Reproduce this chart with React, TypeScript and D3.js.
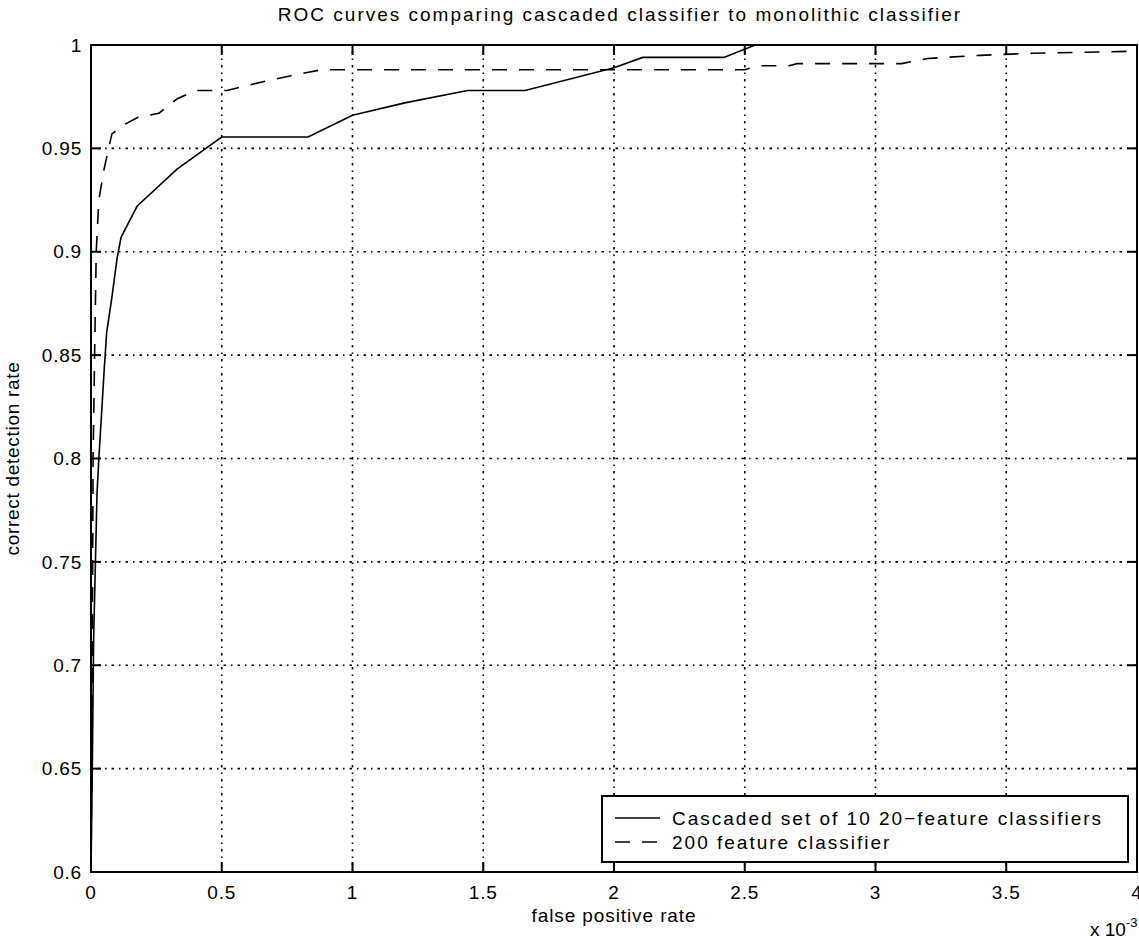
import React from 'react';
import * as d3 from 'd3';

// false positive rate (x 10^-3) and detection rate
const cascadeFpr = [0, 0.005, 0.01, 0.023, 0.03, 0.042, 0.05, 0.06, 0.08, 0.1, 0.115, 0.176, 0.329, 0.45, 0.5, 0.83, 1.0, 1.2, 1.44, 1.66, 2.0, 2.11, 2.42, 2.54, 4.0];
const cascadeTpr = [0.6, 0.65, 0.712, 0.783, 0.8, 0.825, 0.842, 0.861, 0.878, 0.897, 0.907, 0.922, 0.94, 0.951, 0.9555, 0.9555, 0.966, 0.972, 0.978, 0.978, 0.989, 0.994, 0.994, 1.0, 1.0];

const monoFpr = [0, 0.003, 0.008, 0.015, 0.02, 0.03, 0.05, 0.08, 0.12, 0.18, 0.26, 0.33, 0.4, 0.52, 0.65, 0.76, 0.88, 2.5, 2.55, 2.67, 2.7, 3.1, 3.2, 3.4, 3.6, 4.0];
const monoTpr = [0.6, 0.65, 0.8, 0.86, 0.9, 0.925, 0.94, 0.957, 0.961, 0.965, 0.967, 0.974, 0.978, 0.978, 0.982, 0.985, 0.988, 0.988, 0.99, 0.99, 0.991, 0.991, 0.9935, 0.995, 0.996, 0.997];

const xTicks = [0, 0.5, 1, 1.5, 2, 2.5, 3, 3.5, 4];
const yTicks = [0.6, 0.65, 0.7, 0.75, 0.8, 0.85, 0.9, 0.95, 1];

const seriesNames = ['Cascaded set of 10 20\u2212feature classifiers', '200 feature classifier'];

const W = 1139;
const H = 940;
const m = { top: 45, right: 2, bottom: 68, left: 91 };
const font = '"Liberation Sans", Arial, Helvetica, sans-serif';

const App = () => {
  const x = d3.scaleLinear().domain([0, 4]).range([m.left, W - m.right]);
  const y = d3.scaleLinear().domain([0.6, 1]).range([H - m.bottom, m.top]);

  const line = d3.line<[number, number]>()
    .x((d) => x(d[0]))
    .y((d) => y(d[1]));

  const cascade = cascadeFpr.map((v, i) => [v, cascadeTpr[i]] as [number, number]);
  const mono = monoFpr.map((v, i) => [v, monoTpr[i]] as [number, number]);

  const x0 = x(0);
  const x1 = x(4);
  const y0 = y(0.6);
  const y1 = y(1);
  const tick = 10;

  const lg = { left: 602, top: 796, right: 1128, bottom: 862 };

  return (
    <svg width={W} height={H} style={{ position: 'absolute', left: 0, top: 0, background: '#fff' }}
      fontFamily={font}>
      <rect x={0} y={0} width={W} height={H} fill="#fff" />

      {/* grid */}
      <g stroke="#000" strokeWidth={1.6} strokeDasharray="1.5 5 2.5 5" fill="none">
        {xTicks.slice(1, -1).map((t) => (
          <line key={`gx${t}`} x1={x(t)} x2={x(t)} y1={y0} y2={y1} />
        ))}
        {yTicks.slice(1, -1).map((t) => (
          <line key={`gy${t}`} x1={x0} x2={x1} y1={y(t)} y2={y(t)} />
        ))}
      </g>

      {/* curves */}
      <path d={line(cascade) || ''} fill="none" stroke="#000" strokeWidth={1.6} />
      <path d={line(mono) || ''} fill="none" stroke="#000" strokeWidth={1.6} strokeDasharray="15 12" />

      {/* box and ticks */}
      <rect x={x0} y={y1} width={x1 - x0} height={y0 - y1} fill="none" stroke="#000" strokeWidth={2} />
      <g stroke="#000" strokeWidth={2}>
        {xTicks.map((t) => (
          <g key={`tx${t}`}>
            <line x1={x(t)} x2={x(t)} y1={y0} y2={y0 - tick} />
            <line x1={x(t)} x2={x(t)} y1={y1} y2={y1 + tick} />
          </g>
        ))}
        {yTicks.map((t) => (
          <g key={`ty${t}`}>
            <line x1={x0} x2={x0 + tick} y1={y(t)} y2={y(t)} />
            <line x1={x1} x2={x1 - tick} y1={y(t)} y2={y(t)} />
          </g>
        ))}
      </g>

      {/* tick labels */}
      <g fontSize={19} fill="#000" letterSpacing={0.8}>
        {xTicks.map((t) => (
          <text key={`lx${t}`} x={x(t)} y={y0 + 27} textAnchor="middle">{t}</text>
        ))}
        {yTicks.map((t) => (
          <text key={`ly${t}`} x={x0 - 9} y={y(t)} dy="0.35em" textAnchor="end">{t}</text>
        ))}
      </g>

      {/* exponent */}
      <text x={1090} y={936} fontSize={19} fill="#000">
        x 10<tspan dy={-9} fontSize={13}>-3</tspan>
      </text>

      {/* titles */}
      <text x={(x0 + x1) / 2 + 6} y={21} textAnchor="middle" fontSize={19} fill="#000" letterSpacing={2}>
        ROC curves comparing cascaded classifier to monolithic classifier
      </text>
      <text x={(x0 + x1) / 2} y={922} textAnchor="middle" fontSize={19} fill="#000" letterSpacing={0.9}>
        false positive rate
      </text>
      <text transform={`translate(19, ${(y0 + y1) / 2}) rotate(-90)`} textAnchor="middle" fontSize={19}
        fill="#000" letterSpacing={0.7}>
        correct detection rate
      </text>

      {/* legend */}
      <rect x={lg.left} y={lg.top} width={lg.right - lg.left} height={lg.bottom - lg.top}
        fill="#fff" stroke="#000" strokeWidth={2} />
      {seriesNames.map((name, i) => {
        const cy = lg.top + 22 + i * 24;
        return (
          <g key={name}>
            <line x1={lg.left + 13} x2={lg.left + 58} y1={cy} y2={cy} stroke="#000" strokeWidth={1.6}
              strokeDasharray={i === 1 ? '15 12' : undefined} />
            <text x={lg.left + 70} y={cy} dy="0.35em" fontSize={19} fill="#000" letterSpacing={2}>{name}</text>
          </g>
        );
      })}
    </svg>
  );
};

export default App;
